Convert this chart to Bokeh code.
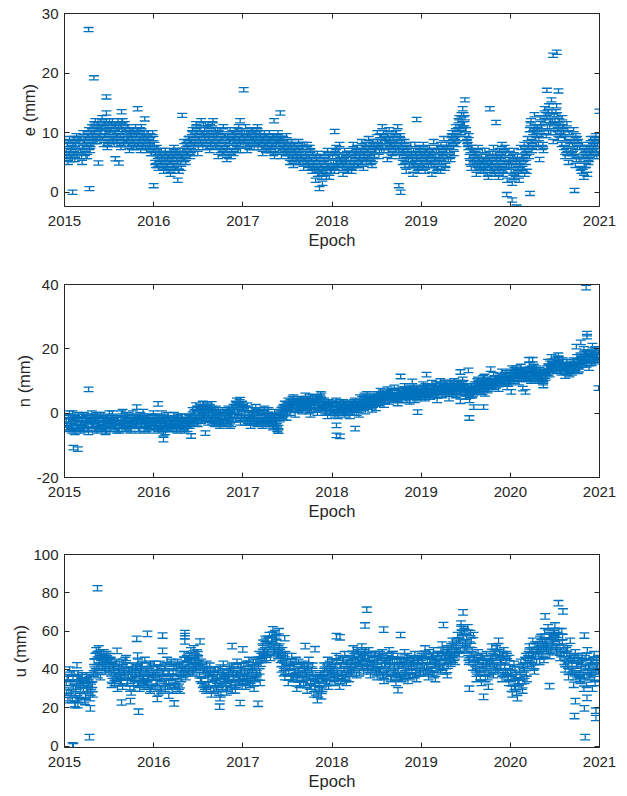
import numpy as np
import pandas as pd
from bokeh.plotting import figure
from bokeh.layouts import column
from bokeh.models import (Range1d, FixedTicker, LinearAxis, CustomJSTickFormatter,
                          ColumnDataSource)
from bokeh.embed import file_html
from bokeh.resources import INLINE

# ---------------- data ----------------
# three interleaved weekly epoch series (start dates)
epoch_starts = ["2015-01-08", "2015-01-10", "2015-01-12"]
x_ticks = [2015, 2016, 2017, 2018, 2019, 2020, 2021]
x_tick_labels = ["2015", "2016", "2017", "2018", "2019", "2020", "2021"]

# ---- East component (mm) ----
e_a_2015 = [7, 5, 9, 6, 8, 5.5, 9.5, 7, 8.5, 6, 10, 6.5, 8, 9.5, 7, 11, 9, 12, 8.5, 11, 10, 12.5, 8, 11, 7.5, 10.5,
            9, 12, 8, 11.5, 9.5, 10.5, 7.5, 12, 8.5, 10, 11, 7, 9.5, 10.5, 8, 7.5, 10, 9, 11, 8, 9.5, 7, 10, 8, 6.5, 9]
e_a_2016 = [5, 7.5, 4, 6.5, 5.5, 3.5, 7, 4.5, 6, 3, 5.5, 7.5, 4, 6.5, 3.5, 5, 6, 8.5, 5, 7.5, 9, 7, 10.5, 8, 11.5, 6.5,
            9, 12, 7.5, 10.5, 8.5, 11.5, 7, 10, 12, 8, 9.5, 6, 10.5, 7.5, 11, 8, 5.5, 9, 10.5, 7, 6.5, 9.5, 8, 11, 7, 10]
e_a_2017 = [8.5, 11, 7, 10, 9, 10.5, 7.5, 9.5, 11, 8, 9, 6.5, 10, 7, 8.5, 10, 7.5, 9.5, 6, 8, 10, 8.5, 6, 9, 7, 9.5,
            7.5, 5, 8.5, 4.5, 7, 6, 8.5, 5, 7.5, 4, 6.5, 8, 4.5, 7, 3.5, 5, 2, 6.5, 3, 4.5, 1.5, 5.5, 3.5, 7, 2.5, 5]
e_a_2018 = [6, 3.5, 7.5, 4.5, 8, 5, 3, 7, 5.5, 4, 6.5, 3.5, 8, 5, 7, 4.5, 6, 8.5, 4, 7.5, 5.5, 9, 6.5, 4.5, 8, 7,
            10, 6, 8.5, 11, 7, 9, 5.5, 10.5, 8, 6.5, 9.5, 7, 11, 6, 8, 5, 8.5, 3.5, 7, 4.5, 6.5, 3, 8, 5.5, 4, 7.5]
e_a_2019 = [5, 8, 3.5, 7, 4.5, 6.5, 3, 8.5, 5.5, 4, 7, 3.5, 6, 9, 4.5, 7.5, 8, 5.5, 10, 6.5, 11, 9, 12.5, 10, 14, 11.5,
            10.5, 8, 6, 4, 7, 5, 3, 7.5, 4.5, 6, 3.5, 7, 5, 2.5, 6.5, 4, 7.5, 3, 6, 2.5, 5.5, 8, 3.5, 6.5, 2, 4.5]
e_a_2020 = [5, 1.5, 7, 3, 6, 2, 7.5, 4, 8, 5, 9, 6, 12, 7.5, 13, 8, 10.5, 5.5, 11, 8, 14, 9.5, 13.5, 11, 15.5, 8.5,
            12, 14.5, 9, 11.5, 8, 10, 6, 11.5, 5, 8.5, 7, 10.5, 4.5, 9, 6, 4, 8, 2.5, 6.5, 3, 5.5, 9, 7, 6, 9.5, 8]
e_b_2015 = [6, 8.5, 5.5, 7.5, 6.5, 8, 6, 9, 7, 5, 7.5, 9, 6, 10.5, 8, 9.5, 11.5, 8.5, 10.5, 9.5, 12, 9, 11.5, 10, 8, 12,
            10.5, 8.5, 11, 9.5, 12, 8, 11, 9, 11.5, 8.5, 9, 10.5, 7.5, 8.5, 10, 9.5, 8, 10.5, 7.5, 9, 8.5, 10, 7.5, 9.5, 8, 7]
e_b_2016 = [6.5, 4.5, 7, 5, 6, 4, 6.5, 5.5, 3.5, 7, 6, 4.5, 7, 5, 6.5, 4, 7, 5.5, 8, 6.5, 8.5, 8.5, 6.5, 9.5, 11, 7.5,
            10.5, 8, 11.5, 9, 10, 9, 11, 8.5, 9.5, 10.5, 8, 10, 7, 9, 6.5, 9.5, 7.5, 6, 8.5, 10, 8.5, 7.5, 10.5, 9, 8, 9.5]
e_b_2017 = [10, 8, 9.5, 7.5, 10.5, 8.5, 10, 9, 7.5, 10, 7.5, 9, 8, 9.5, 7, 8.5, 9, 6.5, 8.5, 9.5, 7, 7, 9, 7.5, 8, 6.5,
            6, 8, 5.5, 7, 6.5, 7.5, 5, 6.5, 8, 5.5, 5, 7.5, 6, 4, 6.5, 4, 6, 3, 5, 3.5, 4, 6.5, 2.5, 4.5, 6, 3.5]
e_b_2018 = [4, 6.5, 5, 7, 5.5, 6, 4.5, 5.5, 6.5, 3.5, 5, 7, 4.5, 6, 7.5, 5.5, 7, 5, 6.5, 8, 6, 7.5, 5, 8.5, 6, 7,
            8.5, 7, 9.5, 7.5, 9, 7.5, 9.5, 8, 6, 9, 8, 10, 7.5, 9, 8.5, 6.5, 4.5, 7.5, 5.5, 6, 4.5, 7, 5, 6, 3.5, 6.5]
e_b_2019 = [6, 4.5, 7, 5.5, 6.5, 5, 7, 4.5, 6, 7.5, 5, 8, 6.5, 5.5, 7, 6, 7, 9, 8.5, 9.5, 8, 10.5, 11, 13, 11.5, 12.5,
            9, 7.5, 5, 7.5, 5.5, 4, 6, 5.5, 4.5, 5, 5.5, 4, 6, 4.5, 5, 5, 3.5, 6.5, 5, 4.5, 4, 6.5, 5, 3.5, 7, 5.5]
e_b_2020 = [3.5, 6, 2.5, 5, 4, 5, 3.5, 6, 3, 6.5, 7.5, 10.5, 8.5, 10, 11, 9.5, 8, 12.5, 9.5, 7, 12, 12.5, 10, 12, 13.5,
            11.5, 10, 13, 11, 9.5, 12.5, 7.5, 9, 6.5, 10, 7, 8, 6, 9.5, 7.5, 5.5, 5.5, 3.5, 7, 4.5, 6, 7.5, 6.5, 8.5, 8, 7, 6.5]
e_c_2015 = [8, 6.5, 7, 5.5, 9, 7, 8.5, 6, 9, 7.5, 8.5, 6, 9.5, 7.5, 10, 8.5, 10, 9, 11.5, 9.5, 11, 11, 9.5, 12, 8.5, 10,
            11.5, 9, 10, 8.5, 11, 9.5, 12, 8, 10.5, 9, 8, 10, 9, 7.5, 11, 10.5, 8.5, 7, 9.5, 10, 7.5, 9, 8.5, 6.5, 10, 8]
e_c_2016 = [4.5, 6, 5.5, 7, 4, 5.5, 4, 6, 5, 6.5, 4.5, 6.5, 5.5, 3.5, 7, 6, 5.5, 7, 6.5, 9, 6, 10, 7.5, 8.5, 10, 9,
            8.5, 10, 9.5, 11.5, 7.5, 10, 8, 11.5, 9, 7.5, 10.5, 8.5, 9, 6.5, 9.5, 7, 9.5, 8.5, 6, 9, 9, 10.5, 7, 8.5, 9.5, 8]
e_c_2017 = [9, 10, 8, 9.5, 7.5, 9, 8.5, 10.5, 8, 9.5, 8.5, 7.5, 9.5, 8, 9, 7, 8, 9.5, 7, 8.5, 9, 9, 7.5, 8, 6.5, 8.5,
            6.5, 7.5, 6, 8, 5.5, 5.5, 7, 6, 5, 8, 6, 5, 7.5, 5.5, 4.5, 3.5, 5.5, 4, 6, 2.5, 3, 5, 4.5, 6, 3.5, 4]
e_c_2018 = [5, 7, 4, 6, 5.5, 4, 6, 5, 3.5, 6.5, 5.5, 4, 6.5, 7, 4.5, 6, 5, 7.5, 6, 5, 7, 6, 8, 5.5, 7, 7.5,
            8, 9.5, 7, 10, 8.5, 8.5, 7, 9, 8, 7.5, 10, 8.5, 7, 9.5, 7, 7, 5.5, 6, 4.5, 8, 5.5, 4.5, 6.5, 4, 7, 5]
e_c_2019 = [4, 6.5, 5.5, 6, 7.5, 4.5, 6, 5.5, 7, 3.5, 6, 5, 7.5, 4, 8, 5.5, 6, 9.5, 7.5, 8.5, 9, 12, 10, 11.5, 13, 10.5,
            8.5, 9.5, 7, 5, 6.5, 6.5, 4.5, 5.5, 3.5, 7, 4.5, 6, 3, 5.5, 4, 6.5, 3.5, 5.5, 4, 7, 6, 3, 7.5, 4.5, 5, 6.5]
e_c_2020 = [4.5, 2.5, 6, 5.5, 3, 4.5, 6, 5.5, 7, 3.5, 8, 11.5, 7, 10.5, 9, 11, 9, 11.5, 7.5, 10, 13, 11, 14.5, 10, 12,
            13, 13.5, 10.5, 12, 10, 11, 9, 7, 10.5, 8, 6.5, 6.5, 9, 5.5, 8.5, 7.5, 3.5, 6, 4.5, 7.5, 5, 6.5, 8, 7.5, 9, 6, 8.5]
e_out_t = [2015.09, 2015.27, 2015.28, 2015.33, 2015.38, 2015.47, 2015.47, 2015.57, 2015.61, 2015.64, 2015.82,
           2015.90, 2016.00, 2016.27, 2016.32, 2016.97, 2017.01, 2017.35, 2017.42, 2017.86, 2018.03, 2018.75,
           2018.77, 2018.95, 2019.49, 2019.77, 2019.84, 2019.96, 2020.02, 2020.07, 2020.22, 2020.41, 2020.48,
           2020.52, 2020.54, 2020.72, 2021.00]
e_out_v = [0.0, 27.3, 0.6, 19.2, 4.9, 16.0, 13.3, 5.6, 4.9, 13.5, 14.0,
           12.3, 1.1, 2.0, 12.9, 12.0, 17.2, 12.0, 13.3, 0.6, 10.2, 1.1,
           0.0, 12.2, 15.5, 14.0, 11.7, -0.4, -1.3, -2.5, -0.2, 17.1, 23.0,
           23.5, 17.0, 0.3, 13.6]
e_sigma = 0.35

# ---- North component (mm) ----
n_a_2015 = [-2, -5, 0, -4, -1.5, -6, -3, -0.5, -4.5, -2, -5, -1, -3.5, -6, -2.5, 0, -4, -1.5, -5.5, -3, -0.5, -4.5,
            -2, -6, -1, -3.5, -5, 0, -2.5, -4, -1.5, -5.5, -2, 0.5, -3.5, -4.5, -1, -3, -5, 0, -2.5, -4, -1.5, -5.5,
            -2, 0.5, -3.5, -5, -1, -2.5, -4.5, 0]
n_a_2016 = [-4, -1, -5.5, -2, 0, -3.5, -6, -1.5, -4, -2.5, -5, -0.5, -3, -5.5, -2, -4, -1, -4.5, -2.5, -5, -1.5, -3,
            1, -2, 2.5, -3.5, 0, -2.5, 3, -1, 1.5, -3, 2, -1.5, 0.5, -3.5, -2, 1, -4, -0.5, -3, 0.5, -2.5, 1.5, -4,
            -1, 2, -2, 4, 0, -3, 3]
n_a_2017 = [1, -3, 2.5, -1.5, -4, 0, -2, 2, -3.5, 1, -1, -4, 1.5, -2.5, 0.5, -3, -1, -4.5, 0.5, -3, -5.5, -2, 1,
            -0.5, 3, -1.5, 4, 0, 2.5, 5, -0.5, 3, 1, 4.5, 0.5, 2, 5.5, 1.5, 3.5, -0.5, 4, 2, 5, 0, 3, 6, 1, 4, 2.5,
            -1, 3.5, 1.5]
n_a_2018 = [3, 0, 4, -1, 2, 1, 3.5, -0.5, 2.5, 0.5, -1, 3, 1.5, 4, 0, 2, 5, 1.5, 3.5, 0.5, 6, 2.5, 4.5, 1, 5.5, 3,
            6, 3, 7, 4, 2.5, 5, 7.5, 3.5, 6.5, 4.5, 8, 5.5, 3, 7, 4, 6, 8.5, 4.5, 7, 3.5, 5.5, 7.5, 4, 8, 6, 5]
n_a_2019 = [6, 9, 4.5, 8, 7, 5, 9.5, 6.5, 8.5, 4, 7.5, 10, 5.5, 8, 6, 9, 4.5, 8.5, 7, 10, 5.5, 7.5, 9.5, 6, 10.5, 8,
            5, 7, 4, 8.5, 6, 9, 6.5, 10.5, 7, 8.5, 11, 6, 9.5, 7.5, 10, 8.5, 12, 9, 11, 7.5, 10.5, 13, 9.5, 12, 8, 11]
n_a_2020 = [11, 14, 10, 13, 12.5, 9.5, 14.5, 11.5, 13.5, 10.5, 12, 15, 10, 13, 11.5, 14, 10, 13.5, 11, 9.5, 12.5,
            13, 16, 12, 17.5, 14.5, 16.5, 13, 18, 15, 12.5, 14.5, 11.5, 16, 13, 15.5, 12.5, 16.5, 14, 17.5, 13.5,
            18, 15, 20, 16.5, 19, 14, 18.5, 21, 16, 19.5, 17.5]
n_b_2015 = [-3.5, -1, -4.5, -2.5, -5, -1.5, -4, -2, -5.5, -3, -0.5, -4, -2, -5, -1, -3.5, -2.5, -5, -0.5, -3.5,
            -4.5, -1.5, -3, -5.5, -2, 0, -3.5, -1, -4.5, -2, -5, -3, 0, -4, -1.5, -2.5, -5, -2, -3.5, -1, -4, -2.5,
            -5, -0.5, -3.5, -1.5, -4, -2, -5.5, -3, -1, -2.5]
n_b_2016 = [-2, -4.5, -1.5, -3.5, -5, -1, -3, -5, -2, -4.5, -2.5, -4, -1.5, -3, -5, -1, -3, -5.5, -2, -3.5, -4, -1,
            -2.5, 0.5, -3, 1.5, -1.5, 1, -0.5, 2, -2, 0, -2, 1, -3, -1, -3, -1, 0, -2.5, -3.5, -1.5, 1, -3, -0.5,
            -2, 1, 3, -1, 2.5, -2, 1.5]
n_b_2017 = [-1, 1.5, -2.5, 0, -3, 1, -1.5, -3, 0.5, -2, 0, -2.5, -1, -3.5, 1, -2, -2, -4, -1, -2.5, -4.5, 0, -1, 2,
            0.5, 2.5, 1.5, 3.5, 2, 4, 1, 2.5, 3.5, 1.5, 4, 3, 4.5, 2.5, 0.5, 3, 5, 3.5, 1, 4.5, 2, 5.5, 2, 3, 0,
            2.5, 1, 3]
n_b_2018 = [1.5, -0.5, 2.5, 0.5, 3.5, 2, 0, 3, 1, 1.5, 2, 0, 3.5, 1, 2.5, -0.5, 3, 4.5, 1.5, 5, 2, 4, 2, 3.5, 5,
            1.5, 4.5, 3.5, 5.5, 6.5, 4, 6, 4.5, 5.5, 7, 4, 6.5, 4.5, 7, 5, 6, 5.5, 7.5, 4, 6.5, 8, 6.5, 5, 7, 4.5,
            6, 7]
n_b_2019 = [7.5, 5.5, 8.5, 6, 8, 7, 5.5, 8, 6, 7.5, 9, 6.5, 8.5, 7, 9.5, 7.5, 7, 9.5, 6, 8, 7.5, 8.5, 6.5, 9, 7,
            8.5, 6, 8, 5.5, 7, 7.5, 8, 7, 9.5, 8.5, 9, 9, 7.5, 10.5, 8, 9.5, 10, 8, 11, 9.5, 10.5, 9, 11.5, 10,
            12.5, 10.5, 9.5]
n_b_2020 = [12, 10.5, 13.5, 11.5, 13, 12, 10.5, 13, 12.5, 11, 13.5, 11, 14, 12.5, 10.5, 13, 12, 11, 12.5, 10.5,
            11.5, 14, 12.5, 15.5, 14, 16, 15, 13.5, 17, 14, 16, 13.5, 15, 12.5, 14.5, 14, 15, 13.5, 15.5, 16, 14.5,
            16, 17.5, 15.5, 18.5, 17, 17, 16, 19, 17.5, 18, 16.5]
n_c_2015 = [-4.5, -2.5, -1, -5.5, -3, -2, -4.5, -1, -3, -5, -3, -1.5, -5, -2, -4, -1, -5, -2, -3.5, -1, -4, -3,
            -5, -1.5, -4, -2.5, -1.5, -4, -3, -5.5, -2, -4, -1.5, -3, -5, -0.5, -3.5, -5.5, -2, -4, -1.5, -3, -1,
            -4, -2.5, -5, -1.5, -3, -4.5, -2, -3.5, -1]
n_c_2016 = [-3, -5, -2.5, -4.5, -1.5, -2, -4, -0.5, -5, -3, -4, -2, -5, -1, -3.5, -2.5, -4.5, -2, -3.5, -1, -3, -2,
            0, -1.5, 1.5, -2.5, 2, -1, 0.5, -2, 2.5, -2, 1, -0.5, -2.5, 1.5, -1, -2.5, -3, 0.5, -1.5, -2.5, 0, -1,
            -3.5, 0.5, -1, 2.5, 0.5, 3.5, -1.5, 2]
n_c_2017 = [0, -2, 1.5, -3, -0.5, -1, 1, -2.5, 0, -3, -2, 0.5, -3, -1.5, -0.5, -2.5, -3.5, -1.5, -3, -5, -0.5, -1,
            1.5, -1.5, 2, 0, 3, 1, 4.5, 2, 3.5, 1, 4, 2.5, 3.5, 1.5, 3, 1, 4.5, 2, 3.5, 1, 4, 2.5, 5, 1.5, 3, 0.5,
            2, 3.5, 0, 2.5]
n_c_2018 = [0.5, 2.5, 1, 3, 1.5, 2.5, 1, 0, 2, 3, 1, 2.5, 0, 2, 3, 1.5, 2, 3.5, 5.5, 2.5, 4, 3, 5, 2.5, 4, 3.5,
            5, 4, 6, 5.5, 3.5, 4.5, 6, 5, 6.5, 5.5, 5, 7, 4, 6.5, 7.5, 7, 5, 6, 7.5, 5.5, 6, 7.5, 5.5, 6.5, 7, 5]
n_c_2019 = [5.5, 8, 6.5, 7.5, 5, 8, 6, 7, 9, 5.5, 6.5, 8.5, 7, 9.5, 7.5, 6.5, 6.5, 7.5, 9, 8, 6.5, 9, 7.5, 8,
            9.5, 6.5, 7.5, 6, 6.5, 5.5, 7, 7.5, 10, 8, 9, 6.5, 8.5, 10, 7, 9, 8.5, 9.5, 11, 8.5, 10, 11.5, 11, 9.5,
            12, 10.5, 9, 11.5]
n_c_2020 = [13, 11.5, 12, 14, 11, 13, 12, 11, 12.5, 13.5, 11, 13.5, 12, 14.5, 12.5, 11, 11.5, 12.5, 10, 13, 11,
            12.5, 14.5, 13.5, 15, 15.5, 14, 17, 15.5, 13, 16.5, 15, 13, 14, 12, 15, 14, 16, 15, 13, 16, 17, 16, 19,
            15, 18, 18.5, 15.5, 17, 20, 16.5, 19]
n_out_t = [2015.09, 2015.10, 2015.15, 2015.27, 2015.81, 2016.05, 2016.11, 2016.11, 2016.42, 2016.56, 2016.58,
           2016.65, 2016.97, 2017.40, 2017.76, 2018.05, 2018.05, 2018.09, 2018.26, 2018.77, 2018.90, 2018.96,
           2019.06, 2019.44, 2019.44, 2019.53, 2019.54, 2019.59, 2019.70, 2019.71, 2019.78, 2020.01, 2020.14,
           2020.17, 2020.21, 2020.25, 2020.37, 2020.74, 2020.79, 2020.85, 2020.86, 2020.86, 2020.99]
n_out_v = [0.0, -10.7, -11.2, 7.4, 1.9, 2.9, -8.2, -6.4, -7.1, 2.9, -6.2,
           2.9, 4.2, -5.6, 5.2, -3.8, -6.9, -7.2, -4.8, 11.4, 9.9, 0.3,
           12.0, 12.8, 3.7, 13.3, -1.5, 1.9, 1.9, 11.4, 13.7, 6.6, 7.6,
           6.6, 16.6, 16.6, 8.6, 20.7, 22.0, 39.0, 24.7, 23.8, 7.8]
n_sigma = 0.7

# ---- Up component (mm) ----
u_a_2015 = [33, 24, 40, 28, 36, 22, 31, 38, 26, 34, 29, 23, 37, 32, 25, 35, 38, 47, 41, 51, 36, 44, 49, 39, 46, 42,
            45, 34, 41, 37, 30, 43, 36, 31, 40, 46, 33, 39, 28, 42, 35, 37, 44, 30, 40, 34, 45, 32, 38, 29, 41, 36]
u_a_2016 = [31, 40, 28, 43, 35, 38, 30, 45, 33, 36, 29, 41, 34, 44, 31, 38, 43, 48, 36, 46, 40, 50, 38, 45, 42, 48,
            37, 44, 32, 40, 29, 35, 42, 27, 38, 33, 30, 40, 25, 36, 43, 34, 28, 39, 32, 42, 36, 29, 44, 33, 39, 31]
u_a_2017 = [42, 31, 38, 45, 34, 40, 30, 44, 36, 48, 43, 52, 46, 55, 49, 58, 53, 61, 50, 57, 47, 52, 40, 46, 36, 44,
            33, 41, 47, 35, 39, 30, 44, 37, 42, 32, 39, 29, 45, 34, 38, 27, 35, 24, 32, 38, 30, 42, 36, 45, 33, 40]
u_a_2018 = [44, 35, 47, 38, 31, 42, 36, 48, 33, 40, 46, 38, 51, 42, 37, 49, 44, 52, 39, 47, 41, 50, 37, 45, 42, 48,
            36, 46, 40, 49, 34, 43, 38, 50, 35, 45, 41, 33, 47, 37, 44, 36, 49, 39, 34, 46, 42, 37, 48, 35, 44, 40]
u_a_2019 = [47, 38, 51, 42, 36, 45, 40, 50, 35, 44, 48, 39, 53, 42, 46, 37, 50, 43, 55, 46, 52, 58, 48, 64, 53, 60,
            50, 62, 45, 55, 41, 46, 35, 49, 40, 33, 44, 38, 48, 31, 42, 52, 37, 48, 41, 55, 45, 35, 50, 39, 47, 33]
u_a_2020 = [38, 27, 43, 30, 25, 33, 44, 29, 40, 47, 42, 52, 45, 55, 39, 49, 53, 44, 57, 48, 60, 51, 62, 47, 58, 54,
            63, 49, 57, 46, 60, 52, 40, 48, 36, 55, 43, 32, 49, 37, 45, 34, 47, 30, 41, 50, 36, 44, 30, 48, 39, 42]
u_b_2015 = [28, 35, 25, 38, 31, 27, 35, 24, 32, 37, 33, 26, 30, 36, 28, 32, 44, 39, 48, 42, 46, 41, 47, 43, 45, 40,
            38, 42, 33, 44, 36, 39, 33, 44, 37, 42, 36, 30, 40, 33, 38, 41, 32, 38, 43, 36, 33, 40, 36, 43, 31, 38]
u_b_2016 = [37, 33, 41, 30, 39, 34, 42, 31, 39, 44, 36, 32, 39, 30, 42, 35, 40, 45, 38, 43, 47, 44, 39, 47, 41, 46,
            41, 34, 39, 31, 43, 32, 39, 35, 29, 40, 34, 28, 41, 31, 38, 37, 30, 35, 40, 29, 40, 32, 38, 35, 42, 34]
u_b_2017 = [36, 43, 33, 39, 41, 33, 41, 37, 45, 39, 47, 54, 50, 45, 56, 52, 56, 49, 59, 54, 51, 49, 43, 38, 48, 41,
            38, 44, 36, 42, 37, 35, 40, 33, 38, 43, 33, 41, 36, 31, 42, 33, 28, 36, 30, 26, 35, 40, 33, 38, 43, 37]
u_b_2018 = [40, 33, 44, 36, 42, 38, 45, 35, 43, 39, 42, 48, 40, 45, 50, 43, 48, 41, 46, 50, 43, 46, 39, 43, 48, 40,
            44, 39, 47, 37, 42, 39, 46, 42, 36, 48, 44, 37, 40, 45, 35, 42, 38, 45, 41, 36, 39, 45, 37, 42, 46, 38]
u_b_2019 = [42, 48, 39, 45, 49, 40, 47, 37, 43, 48, 44, 50, 41, 47, 39, 51, 47, 52, 45, 49, 54, 50, 55, 62, 57, 51,
            57, 46, 53, 48, 58, 43, 39, 45, 36, 47, 40, 35, 44, 38, 46, 44, 49, 40, 52, 46, 41, 48, 37, 44, 39, 46]
u_b_2020 = [35, 41, 31, 37, 33, 40, 36, 42, 34, 38, 46, 50, 42, 48, 53, 44, 50, 56, 47, 52, 55, 55, 49, 58, 52, 60,
            56, 52, 60, 50, 54, 48, 43, 51, 39, 46, 40, 46, 36, 42, 38, 40, 44, 36, 47, 39, 42, 38, 45, 35, 41, 46]
u_c_2015 = [36, 29, 33, 24, 38, 30, 25, 36, 29, 33, 24, 34, 29, 35, 31, 27, 40, 50, 37, 45, 49, 46, 40, 48, 44, 47,
            32, 39, 43, 35, 40, 34, 41, 38, 45, 33, 40, 34, 37, 30, 41, 33, 39, 42, 35, 31, 39, 35, 42, 30, 37, 43]
u_c_2016 = [33, 41, 36, 29, 38, 41, 34, 38, 31, 43, 38, 31, 42, 36, 29, 40, 37, 41, 46, 39, 44, 47, 42, 40, 49, 43,
            35, 42, 30, 37, 40, 38, 30, 36, 40, 33, 37, 32, 27, 39, 35, 30, 36, 41, 33, 38, 31, 37, 42, 33, 40, 36]
u_c_2017 = [39, 35, 43, 32, 37, 44, 35, 38, 42, 33, 45, 49, 56, 48, 53, 46, 58, 52, 55, 48, 60, 45, 50, 42, 39, 47,
            41, 36, 43, 39, 45, 38, 32, 42, 35, 40, 37, 42, 31, 40, 36, 30, 34, 27, 37, 29, 38, 34, 41, 31, 39, 44]
u_c_2018 = [37, 42, 39, 46, 34, 45, 40, 37, 44, 35, 39, 44, 47, 41, 45, 38, 42, 46, 49, 44, 40, 43, 48, 41, 46, 38,
            40, 48, 42, 36, 45, 47, 40, 44, 48, 38, 39, 45, 42, 36, 43, 44, 40, 47, 37, 43, 45, 41, 39, 44, 38, 46]
u_c_2019 = [45, 41, 48, 39, 44, 47, 38, 42, 46, 40, 41, 46, 50, 44, 49, 42, 45, 48, 53, 44, 50, 55, 50, 59, 61, 54,
            52, 44, 59, 50, 46, 40, 44, 38, 47, 42, 46, 41, 36, 43, 39, 47, 42, 51, 39, 49, 44, 38, 42, 48, 36, 41]
u_c_2020 = [30, 36, 40, 28, 34, 37, 31, 41, 45, 35, 48, 43, 50, 41, 47, 52, 47, 51, 55, 45, 52, 53, 57, 50, 55, 59,
            51, 58, 54, 48, 57, 44, 50, 42, 47, 39, 45, 38, 42, 47, 35, 43, 37, 46, 32, 41, 37, 44, 40, 33, 45, 39]
u_out_t = [2015.09, 2015.10, 2015.14, 2015.12, 2015.15, 2015.29, 2015.28, 2015.37, 2015.59, 2015.64, 2015.74,
           2015.81, 2015.82, 2015.83, 2015.93, 2016.04, 2016.10, 2016.10, 2016.17, 2016.23, 2016.35, 2016.35,
           2016.35, 2016.45, 2016.52, 2016.74, 2016.88, 2016.97, 2017.00, 2017.17, 2017.47, 2017.70, 2017.81,
           2018.05, 2018.09, 2018.37, 2018.39, 2018.58, 2018.74, 2018.77, 2019.25, 2019.47, 2019.54, 2019.70,
           2020.39, 2020.44, 2020.54, 2020.59, 2020.72, 2020.73, 2020.83, 2020.83, 2020.84, 2020.86, 2020.96,
           2020.96]
u_out_v = [0.4, 0.0, 42.2, 21.4, 21.4, 19.7, 4.7, 82.4, 49.7, 22.8, 23.5,
           56.0, 47.3, 18.0, 58.6, 24.6, 57.7, 49.7, 26.3, 22.3, 59.0, 57.4,
           54.6, 51.1, 54.6, 20.6, 52.2, 22.5, 50.5, 22.1, 56.3, 52.2, 50.6,
           57.4, 56.8, 63.0, 71.2, 60.8, 29.2, 58.0, 63.2, 69.8, 30.0, 25.7,
           67.7, 31.3, 74.6, 70.3, 15.7, 23.5, 57.7, 19.7, 4.7, 25.2, 18.5,
           14.7]
u_sigma = 1.4

e_ticks, e_tick_labels = [0, 10, 20, 30], ["0", "10", "20", "30"]
n_ticks, n_tick_labels = [-20, 0, 20, 40], ["-20", "0", "20", "40"]
u_ticks, u_tick_labels = [0, 20, 40, 60, 80, 100], ["0", "20", "40", "60", "80", "100"]

# ---------------- styling ----------------
BLUE = "#0072BD"
INK = "#262626"
FONT = "Liberation Sans"


def decimal_year(start, n):
    d = pd.date_range(start, periods=n, freq="7D")
    days = np.where(d.is_leap_year, 366.0, 365.0)
    return np.asarray(d.year + (d.dayofyear - 1) / days, dtype=float)


def style_axis(ax, ticks, labels=None):
    ax.ticker = FixedTicker(ticks=ticks)
    ax.axis_line_color = INK
    ax.axis_line_width = 1
    ax.major_tick_line_color = INK
    ax.major_tick_in = 5
    ax.major_tick_out = 0
    ax.minor_tick_line_color = None
    ax.major_label_text_font = FONT
    ax.major_label_text_font_size = "15px"
    ax.major_label_text_color = INK
    ax.axis_label_text_font = FONT
    ax.axis_label_text_font_size = "16.5px"
    ax.axis_label_text_font_style = "normal"
    ax.axis_label_text_color = INK
    if labels is not None:
        ax.major_label_overrides = {t: l for t, l in zip(ticks, labels)}


def blank_axis(ticks):
    ax = LinearAxis(formatter=CustomJSTickFormatter(code="return ''"))
    style_axis(ax, ticks)
    ax.major_label_text_font_size = "0px"
    ax.major_label_standoff = 0
    return ax


def panel(sets, out_t, out_v, sigma, ylabel, yrange, yticks, yticklabels, height, top, bottom):
    ts, vs = [], []
    for start, years in zip(epoch_starts, sets):
        vals = np.concatenate([np.asarray(y, dtype=float) for y in years])
        ts.append(decimal_year(start, len(vals)))
        vs.append(vals)
    ts.append(np.asarray(out_t, dtype=float))
    vs.append(np.asarray(out_v, dtype=float))
    t = np.concatenate(ts)
    v = np.concatenate(vs)
    src = ColumnDataSource(dict(t=t, v=v, lo=v - sigma, hi=v + sigma))

    p = figure(width=619, height=height,
               min_border_left=64, min_border_right=20, min_border_top=top,
               min_border_bottom=bottom,
               x_range=Range1d(2015, 2021), y_range=Range1d(*yrange),
               output_backend="svg", toolbar_location=None,
               background_fill_color="white", border_fill_color="white")
    p.grid.visible = False
    p.outline_line_color = None

    p.segment(x0="t", y0="lo", x1="t", y1="hi", source=src,
              line_color=BLUE, line_width=1.3)
    p.scatter(x="t", y="lo", marker="dash", size=10, source=src,
              line_color=BLUE, line_width=1.3)
    p.scatter(x="t", y="hi", marker="dash", size=10, source=src,
              line_color=BLUE, line_width=1.3)

    style_axis(p.xaxis[0], x_ticks, x_tick_labels)
    p.xaxis[0].axis_label = "Epoch"
    p.xaxis[0].major_label_standoff = 9
    p.xaxis[0].axis_label_standoff = 2
    style_axis(p.yaxis[0], yticks, yticklabels)
    p.yaxis[0].axis_label = ylabel
    p.yaxis[0].major_label_standoff = 6
    p.yaxis[0].axis_label_standoff = 1

    p.add_layout(blank_axis(x_ticks), "above")
    p.add_layout(blank_axis(yticks), "right")
    return p


p1 = panel([[e_a_2015, e_a_2016, e_a_2017, e_a_2018, e_a_2019, e_a_2020],
            [e_b_2015, e_b_2016, e_b_2017, e_b_2018, e_b_2019, e_b_2020],
            [e_c_2015, e_c_2016, e_c_2017, e_c_2018, e_c_2019, e_c_2020]],
           e_out_t, e_out_v, e_sigma, "e (mm)", (-2.4, 30), e_ticks, e_tick_labels, 275, 13, 69)
p2 = panel([[n_a_2015, n_a_2016, n_a_2017, n_a_2018, n_a_2019, n_a_2020],
            [n_b_2015, n_b_2016, n_b_2017, n_b_2018, n_b_2019, n_b_2020],
            [n_c_2015, n_c_2016, n_c_2017, n_c_2018, n_c_2019, n_c_2020]],
           n_out_t, n_out_v, n_sigma, "n (mm)", (-20, 40), n_ticks, n_tick_labels, 270, 9, 68)
p3 = panel([[u_a_2015, u_a_2016, u_a_2017, u_a_2018, u_a_2019, u_a_2020],
            [u_b_2015, u_b_2016, u_b_2017, u_b_2018, u_b_2019, u_b_2020],
            [u_c_2015, u_c_2016, u_c_2017, u_c_2018, u_c_2019, u_c_2020]],
           u_out_t, u_out_v, u_sigma, "u (mm)", (-0.7, 100), u_ticks, u_tick_labels, 251, 9, 49)

layout = column(p1, p2, p3, spacing=0)
open("out.html", "w").write(file_html(layout, INLINE))
